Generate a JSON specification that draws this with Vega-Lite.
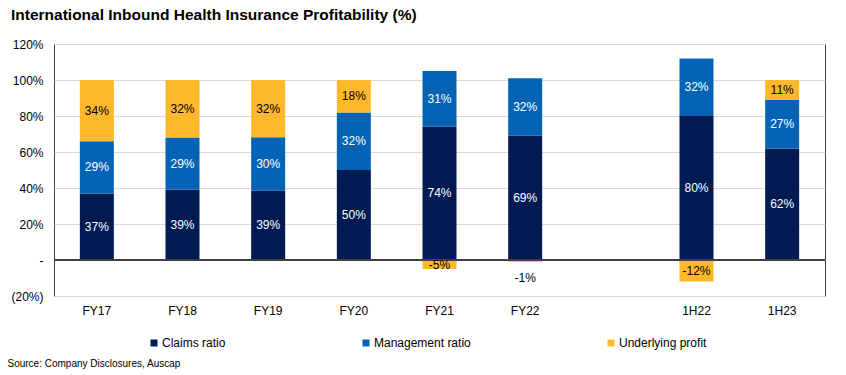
{
  "$schema": "https://vega.github.io/schema/vega-lite/v6.json",
  "width": 771,
  "height": 252,
  "autosize": {"type": "none"},
  "padding": {"left": 54, "top": 44, "right": 21, "bottom": 79},
  "background": "white",
  "config": {
    "font": "Liberation Sans",
    "view": {"stroke": "#404040", "strokeWidth": 1},
    "axisY": {
      "labelOverlap": false,
      "labelFontSize": 12,
      "labelColor": "#000000",
      "labelPadding": 11,
      "ticks": false,
      "domain": false,
      "grid": true,
      "gridColor": "#D9D9D9",
      "gridWidth": 1
    },
    "axisX": {
      "labelAngle": 0,
      "labelFontSize": 12,
      "labelColor": "#000000",
      "labelPadding": 9,
      "ticks": false,
      "domain": false,
      "grid": false,
      "titleFontSize": 10,
      "titleFontWeight": "normal",
      "titleColor": "#000000",
      "titleAnchor": "start",
      "titleAlign": "left",
      "titleBaseline": "alphabetic",
      "titleX": -47,
      "titleY": 70
    }
  },
  "title": {
    "text": "International Inbound Health Insurance Profitability (%)",
    "anchor": "start",
    "frame": "group",
    "dx": -43,
    "dy": 17.5,
    "offset": 20,
    "baseline": "alphabetic",
    "fontSize": 15.5,
    "fontWeight": "bold",
    "font": "Liberation Sans",
    "color": "#000000"
  },
  "data": {
    "values": [
      {"period": "FY17", "series": "Claims ratio", "value": 37},
      {"period": "FY17", "series": "Management ratio", "value": 29},
      {"period": "FY17", "series": "Underlying profit", "value": 34},
      {"period": "FY18", "series": "Claims ratio", "value": 39},
      {"period": "FY18", "series": "Management ratio", "value": 29},
      {"period": "FY18", "series": "Underlying profit", "value": 32},
      {"period": "FY19", "series": "Claims ratio", "value": 38.6},
      {"period": "FY19", "series": "Management ratio", "value": 29.6},
      {"period": "FY19", "series": "Underlying profit", "value": 31.8},
      {"period": "FY20", "series": "Claims ratio", "value": 50},
      {"period": "FY20", "series": "Management ratio", "value": 32},
      {"period": "FY20", "series": "Underlying profit", "value": 18},
      {"period": "FY21", "series": "Claims ratio", "value": 74},
      {"period": "FY21", "series": "Management ratio", "value": 31},
      {"period": "FY21", "series": "Underlying profit", "value": -5},
      {"period": "FY22", "series": "Claims ratio", "value": 69},
      {"period": "FY22", "series": "Management ratio", "value": 32},
      {"period": "FY22", "series": "Underlying profit", "value": -1},
      {"period": "1H22", "series": "Claims ratio", "value": 80},
      {"period": "1H22", "series": "Management ratio", "value": 32},
      {"period": "1H22", "series": "Underlying profit", "value": -12},
      {"period": "1H23", "series": "Claims ratio", "value": 62},
      {"period": "1H23", "series": "Management ratio", "value": 27},
      {"period": "1H23", "series": "Underlying profit", "value": 11}
    ]
  },
  "transform": [
    {"calculate": "round(datum.value) + '%'", "as": "label"},
    {"stack": "value", "groupby": ["period"], "sort": [{"field": "series", "order": "ascending"}], "as": ["y0", "y1"], "offset": "zero"},
    {"calculate": "(datum.y0 + datum.y1) / 2", "as": "ymid"}
  ],
  "layer": [
    {
      "mark": {"type": "bar", "width": 34},
      "encoding": {
        "x": {
          "field": "period",
          "type": "nominal",
          "scale": {"domain": ["FY17", "FY18", "FY19", "FY20", "FY21", "FY22", " ", "1H22", "1H23"], "paddingInner": 0, "paddingOuter": 0},
          "axis": {"title": "Source: Company Disclosures, Auscap"}
        },
        "y": {
          "field": "y1",
          "type": "quantitative",
          "scale": {"domain": [-20, 120], "nice": false},
          "axis": {
            "values": [-20, 0, 20, 40, 60, 80, 100, 120],
            "labelExpr": "datum.value == 0 ? '-' : (datum.value < 0 ? '(' + abs(datum.value) + '%)' : datum.value + '%')",
            "title": null
          }
        },
        "y2": {"field": "y0"},
        "color": {
          "field": "series",
          "type": "nominal",
          "scale": {"domain": ["Claims ratio", "Management ratio", "Underlying profit"], "range": ["#001B52", "#0563B6", "#FDB82B"]},
          "legend": {
            "orient": "none",
            "direction": "horizontal",
            "legendX": 94,
            "legendY": 293,
            "title": null,
            "padding": 0,
            "symbolType": "square",
            "symbolSize": 49,
            "symbolStrokeWidth": 0,
            "symbolOffset": 0,
            "labelOffset": 2,
            "labelFontSize": 12,
            "labelColor": "#000000",
            "columnPadding": 134
          }
        }
      }
    },
    {
      "mark": {"type": "rule", "color": "#404040", "strokeWidth": 1},
      "encoding": {
        "y": {
          "datum": 0,
          "type": "quantitative",
          "axis": {
            "values": [-20, 0, 20, 40, 60, 80, 100, 120],
            "labelExpr": "datum.value == 0 ? '-' : (datum.value < 0 ? '(' + abs(datum.value) + '%)' : datum.value + '%')",
            "title": null
          }
        }
      }
    },
    {
      "transform": [{"filter": "abs(datum.value) >= 3"}],
      "mark": {"type": "text", "fontSize": 12, "baseline": "middle", "align": "center"},
      "encoding": {
        "x": {"field": "period", "type": "nominal"},
        "y": {
          "field": "ymid",
          "type": "quantitative",
          "axis": {
            "values": [-20, 0, 20, 40, 60, 80, 100, 120],
            "labelExpr": "datum.value == 0 ? '-' : (datum.value < 0 ? '(' + abs(datum.value) + '%)' : datum.value + '%')",
            "title": null
          }
        },
        "text": {"field": "label"},
        "color": {
          "condition": {"test": "datum.series === 'Underlying profit'", "value": "#000000"},
          "value": "#FFFFFF"
        }
      }
    },
    {
      "transform": [{"filter": "abs(datum.value) < 3"}],
      "mark": {"type": "text", "fontSize": 12, "baseline": "middle", "align": "center", "dy": 17, "color": "#000000"},
      "encoding": {
        "x": {"field": "period", "type": "nominal"},
        "y": {
          "field": "ymid",
          "type": "quantitative",
          "axis": {
            "values": [-20, 0, 20, 40, 60, 80, 100, 120],
            "labelExpr": "datum.value == 0 ? '-' : (datum.value < 0 ? '(' + abs(datum.value) + '%)' : datum.value + '%')",
            "title": null
          }
        },
        "text": {"field": "label"}
      }
    }
  ]
}
